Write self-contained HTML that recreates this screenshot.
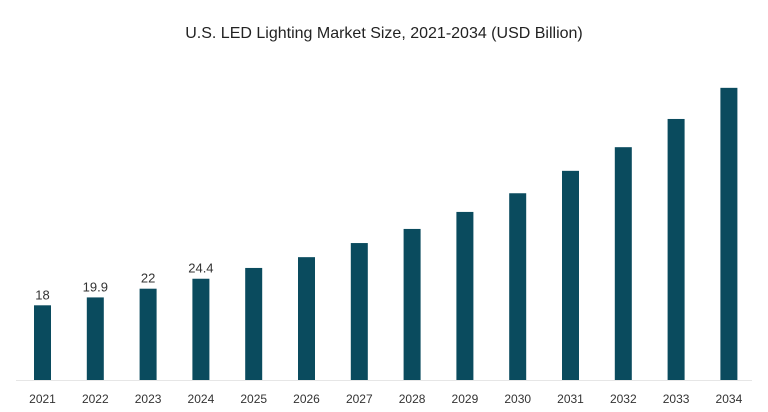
<!DOCTYPE html>
<html><head><meta charset="utf-8"><style>
body{margin:0;background:#fff;}
svg{display:block;font-family:"Liberation Sans",sans-serif;}
</style></head><body>
<svg width="768" height="412" id="c">
<text x="384" y="38" text-anchor="middle" font-size="16" fill="#222">U.S. LED Lighting Market Size, 2021-2034 (USD Billion)</text>
<line x1="16" y1="380.5" x2="752" y2="380.5" stroke="#e6e6e6" stroke-width="1"/>
<g id="bars"></g>
</svg>
<script>
const categories=["2021","2022","2023","2024","2025","2026","2027","2028","2029","2030","2031","2032","2033","2034"];
const values=[18,19.9,22,24.4,27,29.6,33,36.4,40.5,45,50.4,56.1,62.9,70.4];
const labels=["18","19.9","22","24.4","","","","","","","","","",""];
const ns="http://www.w3.org/2000/svg";
const g=document.getElementById('bars');
const x0=42.5,step=52.8,bw=17,base=380,k=4.15;
const xS=i=>x0+i*step;
const yS=v=>base-v*k;
categories.forEach((c,i)=>{
 const r=document.createElementNS(ns,'rect');
 
 
 r.setAttribute('x',xS(i)-bw/2);r.setAttribute('y',yS(values[i]));
 r.setAttribute('width',bw);r.setAttribute('height',base-yS(values[i]));
 r.setAttribute('fill','#0a4b5e');g.appendChild(r);
 const t=document.createElementNS(ns,'text');
 
 
 t.setAttribute('x',xS(i));t.setAttribute('y',403);t.setAttribute('text-anchor','middle');
 t.setAttribute('font-size','12');t.setAttribute('fill','#333');t.textContent=c;g.appendChild(t);
 if(labels[i]){
  const l=document.createElementNS(ns,'text');
  
  
  l.setAttribute('x',xS(i));l.setAttribute('y',yS(values[i])-6);l.setAttribute('text-anchor','middle');
  l.setAttribute('font-size','13');l.setAttribute('fill','#333');l.textContent=labels[i];g.appendChild(l);
 }
});
</script>
</body></html>
